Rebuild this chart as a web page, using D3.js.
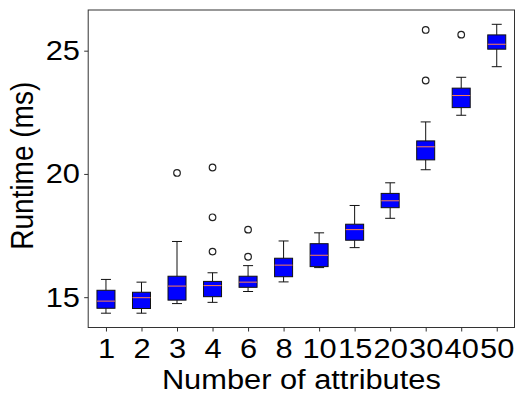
<!DOCTYPE html>
<html>
<head>
<meta charset="utf-8">
<script src="https://cdn.jsdelivr.net/npm/d3@7"></script>
<style>
  body { margin: 0; background: #fff; }
  svg { display: block; font-family: "Liberation Sans", Arial, sans-serif; }
  .axis path, .axis line { stroke: #333; }
  .axis text { fill: #000; font-size: 28px; }
</style>
</head>
<body>
<div id="chart"></div>
<script>
// values (ms)
const categories = ["1", "2", "3", "4", "6", "8", "10", "15", "20", "30", "40", "50"];
const whiskerLow = [14.35, 14.35, 14.74, 14.79, 15.23, 15.62, 16.2, 17.01, 18.2, 20.17, 22.38, 24.35];
const q1 = [14.55, 14.54, 14.88, 15.02, 15.4, 15.83, 16.24, 17.31, 18.63, 20.57, 22.69, 25.06];
const medians = [14.84, 14.98, 15.45, 15.47, 15.61, 16.3, 16.7, 17.74, 18.91, 21.1, 23.18, 25.26];
const q3 = [15.28, 15.2, 15.85, 15.64, 15.85, 16.58, 17.17, 17.96, 19.21, 21.34, 23.48, 25.64];
const whiskerHigh = [15.72, 15.61, 17.26, 15.99, 16.28, 17.28, 17.61, 18.72, 19.64, 22.11, 23.92, 26.07];
const outliers = [[], [], [20.04], [20.26, 18.24, 16.85], [17.74, 16.64], [], [], [], [], [25.84, 23.79], [25.65], []];
const yTicks = [15, 20, 25];

const boxes = categories.map((c, i) => ({
  cat: c, lo: whiskerLow[i], q1: q1[i], med: medians[i], q3: q3[i], hi: whiskerHigh[i], out: outliers[i]
}));

const width = 516, height = 395;
const margin = {top: 10, right: 1.5, bottom: 67.5, left: 88.2};
const w = width - margin.left - margin.right;
const h = height - margin.top - margin.bottom;
const stretch = "scale(1.1,1)"; // the reference text is a bit wide

const x = d3.scalePoint().domain(categories).range([0, w]).padding(0.5);
const y = d3.scaleLinear().domain([13.77, 26.65]).range([h, 0]);
const boxW = 18, capW = 10;

const svg = d3.select("#chart").append("svg")
  .attr("width", width)
  .attr("height", height)
  .append("g")
  .attr("transform", "translate(" + margin.left + "," + margin.top + ")");

// frame
svg.append("rect")
  .attr("width", w).attr("height", h)
  .attr("fill", "none").attr("stroke", "#333").attr("stroke-width", 1);

svg.append("g")
  .attr("class", "x axis")
  .attr("transform", "translate(0," + h + ")")
  .call(d3.axisBottom(x).tickSize(4).tickPadding(7))
  .call(g => g.select(".domain").remove())
  .call(g => g.selectAll("text").attr("transform", stretch));

svg.append("g")
  .attr("class", "y axis")
  .call(d3.axisLeft(y).tickValues(yTicks).tickSize(4).tickPadding(3.5))
  .call(g => g.select(".domain").remove())
  .call(g => g.selectAll("text").attr("transform", stretch));

const g = svg.selectAll(".box").data(boxes).enter().append("g")
  .attr("class", "box")
  .attr("transform", d => "translate(" + x(d.cat) + ",0)");

// whiskers
g.append("line").attr("y1", d => y(d.hi)).attr("y2", d => y(d.q3))
  .attr("stroke", "#111").attr("stroke-width", 1);
g.append("line").attr("y1", d => y(d.lo)).attr("y2", d => y(d.q1))
  .attr("stroke", "#111").attr("stroke-width", 1);
g.append("line").attr("x1", -capW / 2).attr("x2", capW / 2)
  .attr("y1", d => y(d.hi)).attr("y2", d => y(d.hi))
  .attr("stroke", "#111").attr("stroke-width", 1);
g.append("line").attr("x1", -capW / 2).attr("x2", capW / 2)
  .attr("y1", d => y(d.lo)).attr("y2", d => y(d.lo))
  .attr("stroke", "#111").attr("stroke-width", 1);

// boxes
g.append("rect")
  .attr("x", -boxW / 2).attr("width", boxW)
  .attr("y", d => y(d.q3)).attr("height", d => y(d.q1) - y(d.q3))
  .attr("fill", "#0000ff").attr("stroke", "#111").attr("stroke-width", 1);

// medians
g.append("line").attr("x1", -boxW / 2).attr("x2", boxW / 2)
  .attr("y1", d => y(d.med)).attr("y2", d => y(d.med))
  .attr("stroke", "#ff7f50").attr("stroke-width", 1);

// fliers
g.selectAll("circle").data(d => d.out).enter().append("circle")
  .attr("cy", d => y(d)).attr("r", 3.3)
  .attr("fill", "#fff").attr("stroke", "#222").attr("stroke-width", 1.2);

svg.append("text")
  .attr("transform", "translate(" + (w / 2) + "," + (h + 61.5) + ") " + stretch)
  .attr("text-anchor", "middle")
  .style("font-size", "28px")
  .text("Number of attributes");

svg.append("text")
  .attr("transform", "translate(" + (-margin.left + 33) + "," + (h / 2 - 3) + ") " + stretch + " rotate(-90)")
  .attr("text-anchor", "middle")
  .style("font-size", "28px")
  .text("Runtime (ms)");
</script>
</body>
</html>
